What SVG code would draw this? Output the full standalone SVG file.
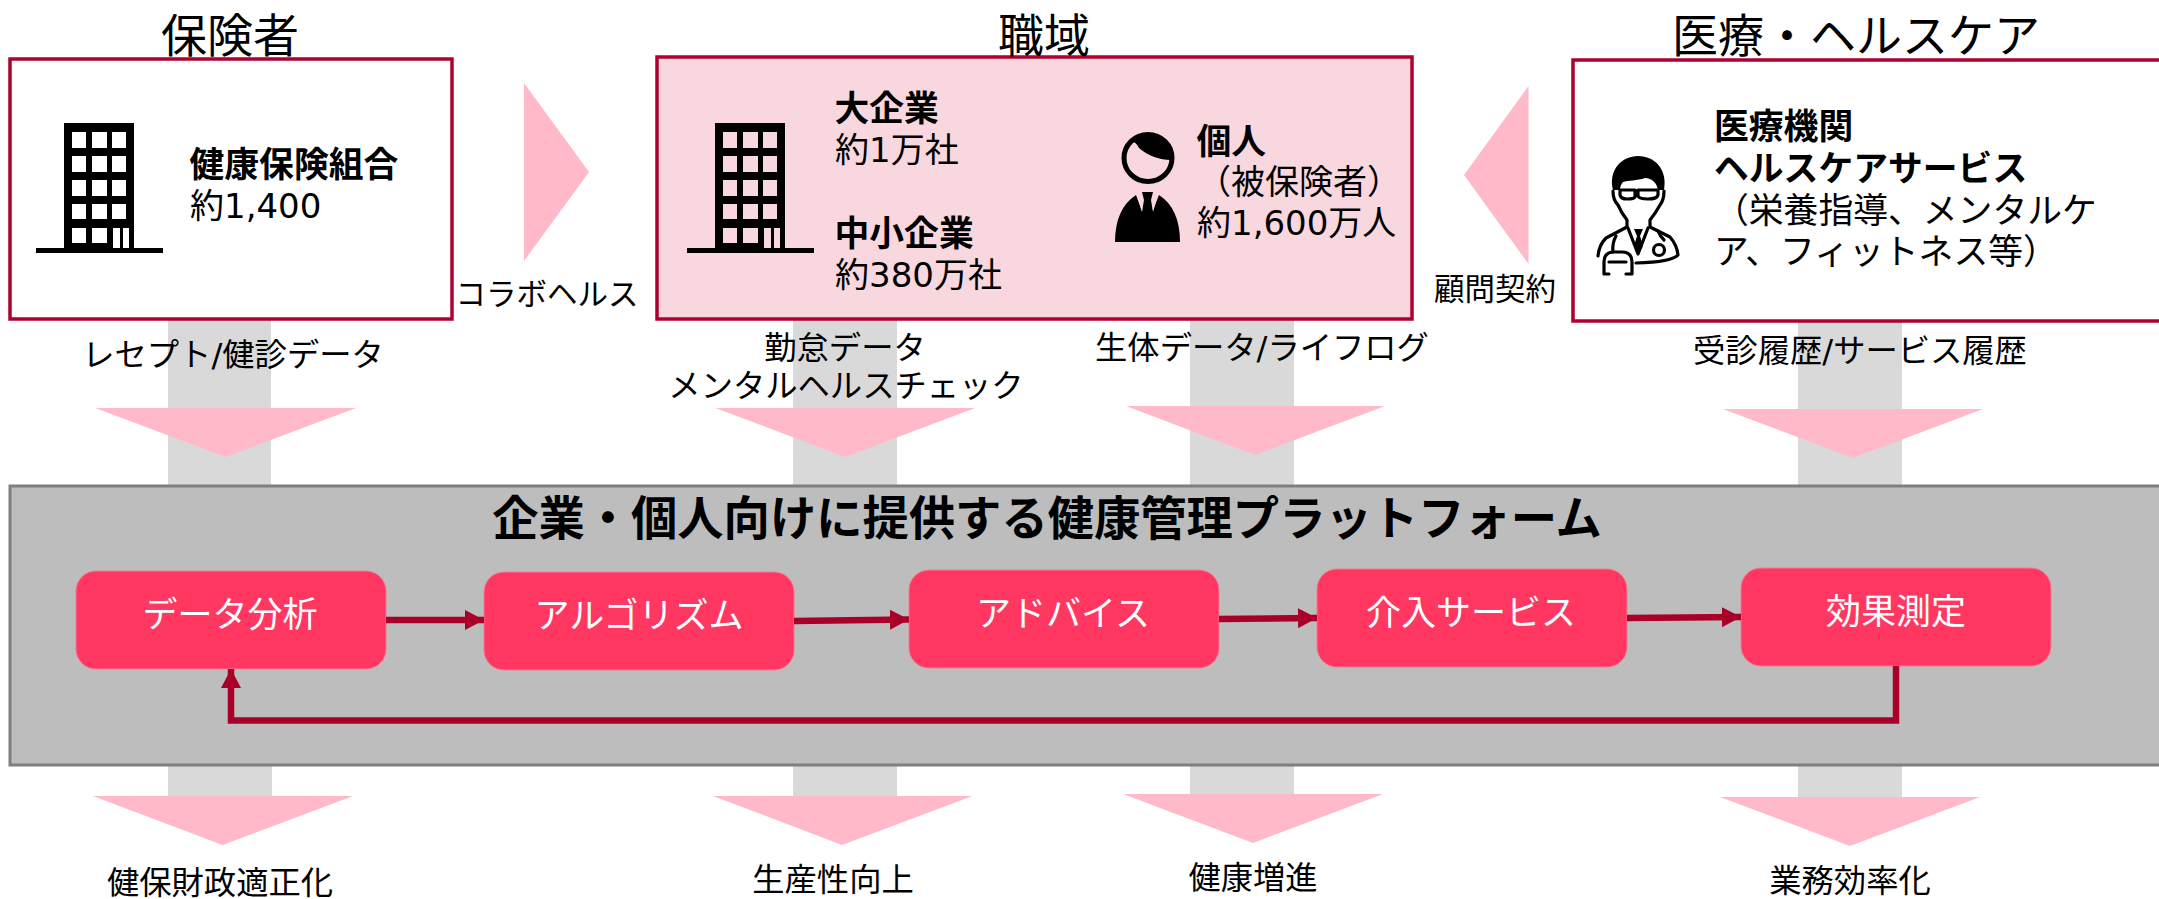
<svg xmlns="http://www.w3.org/2000/svg" width="2159" height="899" viewBox="0 0 2159 899">
<style>
text{font-family:"DejaVu Sans","Noto Sans CJK JP",sans-serif;fill:#000}
.h{font-size:46px;text-anchor:middle}
.b{font-size:34.800px;font-weight:700}
.t{font-size:34px}
.m{font-size:34.800px}
.l{font-size:32.300px;text-anchor:middle}
.s{font-size:30.500px;text-anchor:middle}
.n{font-size:35px;text-anchor:middle;fill:#fff}
.box{stroke:#b0002f;stroke-width:3.5}
.bar{fill:#d9d9d9}
.tri{fill:#ffb9c9}
.node{fill:#ff3761;stroke:#f27a92;stroke-width:1}
.c{fill:none;stroke:#a80029;stroke-width:6.5}
.k{fill:none;stroke:#000;stroke-width:3.200px;stroke-linejoin:round;stroke-linecap:round}
</style>
<defs>
<marker id="ah" markerUnits="userSpaceOnUse" markerWidth="20" markerHeight="20" refX="19" refY="10" orient="auto"><path d="M0 0L19 10L0 20Z" fill="#a80029"/></marker>
<path id="bld" fill-rule="evenodd" d="M64 123H134V248H163V253H36V248H64ZM72 132V148H86V132ZM92 132V148H107V132ZM112 132V148H126V132ZM72 156V172H86V156ZM92 156V172H107V156ZM112 156V172H126V156ZM72 180V196H86V180ZM92 180V196H107V180ZM112 180V196H126V180ZM72 204V219H86V204ZM92 204V219H107V204ZM112 204V219H126V204ZM72 228V243H86V228ZM92 228V243H107V228ZM113 228V248H120V228ZM123 228V248H129V228Z"/>
</defs>
<rect width="2159" height="899" fill="#fff"/>
<g id="bars">
<rect class="bar" x="168" y="317" width="103" height="170"/>
<rect class="bar" x="793" y="317" width="104" height="170"/>
<rect class="bar" x="1190" y="317" width="104" height="170"/>
<rect class="bar" x="1798" y="317" width="104" height="170"/>
<rect class="bar" x="168" y="765" width="104" height="32"/>
<rect class="bar" x="793" y="765" width="104" height="32"/>
<rect class="bar" x="1190" y="765" width="104" height="32"/>
<rect class="bar" x="1798" y="765" width="104" height="33"/>
</g>
<g id="insurer">
<rect class="box" x="10" y="59" width="442" height="260" fill="#fff"/>
<use href="#bld"/>
<text class="b" x="189.500" y="177">健康保険組合</text>
<text class="t" x="190" y="218">約1,400</text>
</g>
<g id="workplace">
<rect class="box" x="657" y="57" width="755" height="262" fill="#f8d7de"/>
<use href="#bld" x="651"/>
<text class="b" x="834.500" y="121">大企業</text>
<text class="t" x="835" y="162">約1万社</text>
<text class="b" x="834.500" y="246">中小企業</text>
<text class="t" x="835" y="287">約380万社</text>
<ellipse cx="1148" cy="158" rx="24" ry="23.500" fill="none" stroke="#000" stroke-width="5"/>
<path d="M1124 155C1128 143 1134 137 1139 148C1148 156 1160 160 1171 160C1172 145 1162 133 1147 133C1134 133 1124 143 1124 155Z"/>
<path d="M1115 242C1115 220 1122 204 1136 195L1147 225L1159 195C1173 204 1180 220 1180 242Z"/>
<path d="M1142 192H1153L1151 200L1154 218L1147.500 232L1141 218L1144 200Z"/>
<path d="M1137 195L1143 196L1142 212Z M1158 195L1152 196L1153 212Z" fill="#f8d7de"/>
<text class="b" x="1196.500" y="154">個人</text>
<text class="t" x="1197" y="194">（被保険者）</text>
<text class="t" x="1197" y="235">約1,600万人</text>
</g>
<g id="medical">
<rect class="box" x="1573" y="60" width="600" height="261" fill="#fff"/>
<path d="M1613 190C1608 170 1622 156 1638 156C1655 156 1668 170 1664 190H1658C1657 183 1652 178 1645 178C1637 181 1628 180 1623 182C1621 184 1620 187 1620 190Z"/>
<path class="k" d="M1620 190H1635V197Q1634 199 1627 199Q1621 199 1620 195ZM1638 190H1658V195Q1657 199 1648 199Q1639 199 1638 196ZM1635 191H1638"/>
<path class="k" d="M1613 191Q1613 200 1618 205Q1622 214 1627 220V227L1606 238Q1599 245 1598 256M1664 191Q1664 200 1660 205Q1655 214 1650 220V227L1670 237Q1677 245 1678 255Q1672 262 1636 263"/>
<path class="k" d="M1628 228L1638 254L1648 228"/>
<path d="M1634 229H1643L1640 236L1643 246L1638 255L1634 246L1637 236Z"/>
<circle class="k" cx="1659" cy="250" r="5.500"/>
<path class="k" d="M1664 240Q1660 236 1658 231M1616 236Q1612 243 1613 252"/>
<path class="k" d="M1604 274V262Q1604 252 1614 252H1622Q1632 252 1632 262V274M1604 274H1609M1632 274H1626M1609 262H1626"/>
<text class="b" x="1714" y="139">医療機関</text>
<text class="b" x="1714" y="181">ヘルスケアサービス</text>
<text class="m" x="1714" y="223">（栄養指導、メンタルケ</text>
<text class="m" x="1714" y="264">ア、フィットネス等）</text>
</g>
<g id="platform">
<rect x="10" y="486" width="2170" height="279" fill="#bdbdbd" stroke="#7f7f7f" stroke-width="3"/>
<text x="1047" y="535" font-size="46.300" font-weight="700" text-anchor="middle">企業・個人向けに提供する健康管理プラットフォーム</text>
</g>
<g id="arrows">
<path class="tri" d="M524 83L589 172L524 261Z"/>
<path class="tri" d="M1528.500 86L1464 175L1528.500 264Z"/>
<path class="tri" d="M95.500 408H356L225.500 457Z"/>
<path class="tri" d="M715.500 408H975L845 457Z"/>
<path class="tri" d="M1126 406H1385L1255 455Z"/>
<path class="tri" d="M1723 409H1983L1853 458Z"/>
<path class="tri" d="M93 796H353L222.500 845Z"/>
<path class="tri" d="M713 796H972.500L842 845Z"/>
<path class="tri" d="M1123 794H1383L1253 843Z"/>
<path class="tri" d="M1720 797H1980L1850 846Z"/>
</g>
<g id="node-analysis"><rect class="node" x="76" y="571" width="310" height="98" rx="20"/><text class="n" x="230" y="627">データ分析</text></g>
<g id="node-algorithm"><rect class="node" x="484" y="572" width="310" height="98" rx="20"/><text class="n" x="639" y="628">アルゴリズム</text></g>
<g id="node-advice"><rect class="node" x="909" y="570" width="310" height="98" rx="20"/><text class="n" x="1063" y="626">アドバイス</text></g>
<g id="node-intervention"><rect class="node" x="1317" y="569" width="310" height="98" rx="20"/><text class="n" x="1471" y="625">介入サービス</text></g>
<g id="node-effect"><rect class="node" x="1741" y="568" width="310" height="98" rx="20"/><text class="n" x="1896" y="624">効果測定</text></g>
<g id="connectors">
<path class="c" marker-end="url(#ah)" d="M386 620H484"/>
<path class="c" marker-end="url(#ah)" d="M794 621L909 619.500"/>
<path class="c" marker-end="url(#ah)" d="M1219 619L1317 618"/>
<path class="c" marker-end="url(#ah)" d="M1627 618L1741 617"/>
<path class="c" marker-end="url(#ah)" d="M1896 666V720.500H231V669"/>
</g>
<g id="titles">
<text class="h" x="230" y="52">保険者</text>
<text class="h" x="1044" y="52">職域</text>
<text class="h" x="1856" y="52">医療・ヘルスケア</text>
</g>
<g id="labels">
<text class="s" x="547" y="305">コラボヘルス</text>
<text class="s" x="1495" y="300">顧問契約</text>
<text class="l" x="233" y="366">レセプト/健診データ</text>
<text class="l" x="845" y="359">勤怠データ</text>
<text class="l" x="846" y="397">メンタルヘルスチェック</text>
<text class="l" x="1262" y="359">生体データ/ライフログ</text>
<text class="l" x="1860" y="362">受診履歴/サービス履歴</text>
<text class="l" x="220" y="894">健保財政適正化</text>
<text class="l" x="833" y="891">生産性向上</text>
<text class="l" x="1253" y="889">健康増進</text>
<text class="l" x="1850" y="892">業務効率化</text>
</g>
</svg>
